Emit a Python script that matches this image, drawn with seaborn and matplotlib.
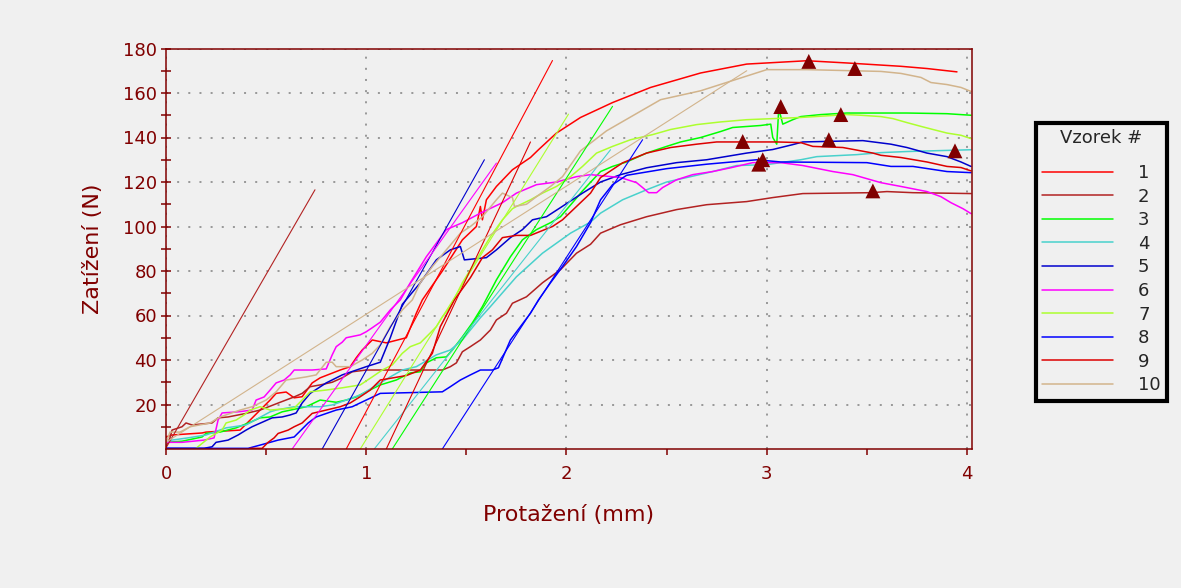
import matplotlib
matplotlib.use("Agg")
import matplotlib.pyplot as plt
from matplotlib.ticker import FixedLocator, NullFormatter
import pandas as pd
import seaborn as sns

# ---------------- data ----------------
SAMPLES = ["1", "2", "3", "4", "5", "6", "7", "8", "9", "10"]
COLORS = ["#ff0000", "#b22222", "#00ff00", "#48d1cc", "#0000cd",
          "#ff00ff", "#adff2f", "#0000ff", "#dd0000", "#d2b48c"]

X1 = [0, 0.03, 0.18, 0.2, 0.37, 0.42, 0.47, 0.52, 0.55, 0.60, 0.64, 0.68, 0.73, 0.77, 0.87,
      0.92, 0.95, 0.98, 1.03, 1.10, 1.20, 1.25, 1.28, 1.38, 1.48, 1.55, 1.57, 1.58, 1.60,
      1.65, 1.73, 1.82, 1.86, 1.95, 2.07, 2.23, 2.42, 2.67, 2.9, 3.2, 3.4, 3.67, 3.8, 3.95]
Y1 = [5.4, 6.3, 7.2, 7.6, 8.5, 13, 17.5, 22, 25, 25.6, 23, 23.5, 29.7, 32, 35.5,
      37, 41, 44.5, 49, 47.7, 50, 61, 67, 80, 94, 100, 109, 103, 112,
      118, 125.5, 131, 134.5, 142, 149, 155.7, 162.5, 169, 173, 174.5, 173.5, 172, 171, 169.5]

X2 = [0, 0.02, 0.03, 0.08, 0.10, 0.13, 0.23, 0.26, 0.31, 0.40, 0.47, 0.57, 0.64, 0.68, 0.72,
      0.77, 0.83, 0.88, 0.93, 1.0, 1.38, 1.42, 1.45, 1.48, 1.52, 1.57, 1.62, 1.65, 1.70,
      1.73, 1.80, 1.88, 1.97, 2.05, 2.12, 2.17, 2.27, 2.40, 2.55, 2.70, 2.90, 3.03, 3.18,
      3.52, 3.60, 3.73, 4.02]
Y2 = [1, 5, 8.5, 10, 11.7, 10.8, 11.7, 14, 14.4, 16, 17.5, 21, 23.4, 25, 28,
      28.8, 30, 32, 34.7, 35.5, 35.5, 37, 38.7, 43.7, 46, 49, 53.5, 58, 61,
      65.5, 68.4, 74.7, 80.6, 88, 92, 97, 100.8, 104.4, 107.6, 109.8, 111.2, 113, 114.8,
      115.2, 115.7, 115.2, 114.8]

X3 = [0, 0.08, 0.18, 0.2, 0.27, 0.35, 0.42, 0.47, 0.52, 0.58, 0.67, 0.70, 0.77, 0.85, 0.90,
      0.95, 1.0, 1.07, 1.15, 1.22, 1.27, 1.30, 1.35, 1.40, 1.43, 1.48, 1.53, 1.58, 1.65,
      1.72, 1.78, 1.85, 1.92, 1.97, 2.03, 2.08, 2.17, 2.23, 2.30, 2.40, 2.50, 2.57, 2.67,
      2.77, 2.83, 2.97, 3.02, 3.03, 3.05, 3.06, 3.08, 3.13, 3.17, 3.27, 3.40, 3.70, 3.90, 4.02]
Y3 = [3, 3.5, 5.4, 7, 7.6, 9.5, 12, 14, 14.4, 16.7, 18.4, 19, 22, 21, 22,
      23.4, 25.7, 28.8, 31, 34.2, 34.7, 38.7, 41, 41.4, 44.5, 50.4, 56.7, 64, 76,
      86.4, 94, 98.6, 101.7, 104.4, 110.7, 116, 124.7, 127, 129, 133, 136, 138, 140,
      142.7, 144.5, 145.4, 146, 140, 137, 153, 146, 148, 149.4, 150.3, 151, 151, 150.7, 150]

X4 = [0, 0.03, 0.11, 0.2, 0.30, 0.40, 0.52, 0.55, 0.64, 0.77, 0.83, 0.90, 0.97, 1.03, 1.12,
      1.18, 1.25, 1.35, 1.42, 1.48, 1.52, 1.57, 1.62, 1.75, 1.88, 2.02, 2.12, 2.17, 2.28,
      2.40, 2.50, 2.62, 2.73, 2.85, 3.0, 3.17, 3.25, 3.45, 3.57, 3.70, 4.02]
Y4 = [3, 4, 5, 6.3, 9.5, 10.8, 16.7, 17.5, 19, 19, 19.8, 22, 24.3, 27.5, 32.4,
      35.5, 37, 42.3, 44.5, 49, 53.5, 59, 64, 77.4, 88, 97, 102, 106, 112,
      116.5, 120, 122.4, 124.7, 127.4, 127.8, 130, 131.4, 132.3, 133.2, 133.7, 134.5]

X5 = [0, 0.19, 0.23, 0.25, 0.31, 0.36, 0.40, 0.43, 0.48, 0.53, 0.58, 0.62, 0.65, 0.68, 0.72,
      0.80, 0.88, 1.0, 1.07, 1.12, 1.18, 1.27, 1.35, 1.42, 1.47, 1.49, 1.60, 1.65, 1.72,
      1.78, 1.83, 1.90, 1.97, 2.08, 2.17, 2.27, 2.40, 2.55, 2.70, 2.90, 3.03, 3.13, 3.18,
      3.48, 3.62, 3.70, 3.80, 3.90, 3.97, 4.02]
Y5 = [0.3, 0.3, 1, 3, 4, 6.3, 8.5, 10, 12, 14, 14.4, 15.3, 16.2, 20.7, 25,
      29.7, 33.3, 37, 39, 50, 65, 74.7, 85, 89.5, 91, 85, 86, 89.5, 95,
      98.6, 103, 104.4, 108.5, 115, 120, 123.3, 126.4, 128.7, 130, 133, 134.6, 136.8, 138,
      138.6, 137, 135.5, 133, 131.4, 129, 127]

X6 = [0, 0.08, 0.19, 0.24, 0.26, 0.28, 0.36, 0.43, 0.45, 0.49, 0.52, 0.55, 0.59, 0.62, 0.64,
      0.73, 0.80, 0.83, 0.85, 0.88, 0.90, 0.97, 1.0, 1.03, 1.07, 1.12, 1.17, 1.22, 1.30,
      1.40, 1.48, 1.57, 1.68, 1.75, 1.85, 1.95, 2.05, 2.12, 2.27, 2.35, 2.38, 2.41, 2.45,
      2.48, 2.55, 2.63, 2.73, 2.82, 2.93, 3.07, 3.18, 3.33, 3.43, 3.50, 3.57, 3.67, 3.80,
      3.87, 3.92, 3.98, 4.02]
Y6 = [3, 3, 4, 5, 13, 16.2, 16.7, 17.5, 22, 23.4, 26.5, 29.7, 31, 33.3, 35.5,
      35.5, 36, 42.3, 46, 48, 50, 51.3, 52.7, 54.5, 57, 62.5, 67, 74.7, 86.4,
      98.6, 101.7, 106, 110.7, 115, 118.8, 120, 122.4, 123.3, 122, 119.7, 117.5, 115.2, 115.2,
      117.5, 121, 123.3, 124.7, 126.4, 128.7, 128.7, 127.4, 124.7, 123.3, 121.5, 119.7, 118, 115.7,
      113.4, 110.7, 108, 105.8]

X7 = [0.15, 0.22, 0.28, 0.30, 0.35, 0.39, 0.42, 0.47, 0.52, 0.64, 0.68, 0.72, 0.80, 0.88,
      0.97, 1.03, 1.08, 1.13, 1.18, 1.22, 1.27, 1.32, 1.35, 1.38, 1.42, 1.48, 1.55, 1.62,
      1.68, 1.73, 1.75, 1.82, 1.88, 1.95, 2.02, 2.08, 2.15, 2.23, 2.32, 2.43, 2.52, 2.65,
      2.77, 2.90, 3.17, 3.40, 3.47, 3.57, 3.63, 3.70, 3.77, 3.83, 3.90, 3.97, 4.02]
Y7 = [0.3, 5.4, 8.5, 11.7, 13, 15.3, 17.5, 19, 17.5, 18.4, 22, 25.7, 26.5, 27.5,
      28.8, 32.4, 35.5, 37.8, 43, 46, 47.7, 52.2, 55, 59.4, 64, 74.7, 85, 95.4,
      103, 108, 109, 112, 115, 118, 122.4, 127, 133, 136, 139, 141.3, 143.6, 145.8,
      147, 148, 149, 150.3, 150, 149.4, 148.5, 146.7, 145, 143.6, 142, 141, 139.5]

X8 = [0, 0.41, 0.48, 0.56, 0.64, 0.71, 0.75, 0.85, 0.93, 1.0, 1.07, 1.38, 1.42, 1.47, 1.52,
      1.57, 1.63, 1.66, 1.72, 1.77, 1.82, 1.86, 1.92, 1.98, 2.05, 2.12, 2.17, 2.23, 2.30,
      2.50, 2.70, 2.95, 3.07, 3.50, 3.62, 3.73, 3.90, 4.02]
Y8 = [0.3, 0.3, 2, 4, 5.4, 11.7, 14.4, 17.5, 19, 22, 25, 25.7, 28, 31, 33.3,
      35.5, 35.5, 36.5, 49, 55, 61, 67, 74.7, 82, 91, 101.7, 112, 118.8, 123,
      126, 128, 130, 129, 128.7, 127, 127, 124.7, 124.2]

X9 = [0.42, 0.48, 0.51, 0.54, 0.56, 0.61, 0.64, 0.68, 0.73, 0.87, 0.92, 0.97, 1.02, 1.07,
      1.20, 1.27, 1.33, 1.37, 1.44, 1.52, 1.58, 1.63, 1.68, 1.75, 1.82, 1.93, 1.98, 2.05,
      2.12, 2.17, 2.28, 2.40, 2.52, 2.65, 2.75, 3.05, 3.17, 3.23, 3.38, 3.53, 3.57, 3.67,
      3.80, 3.90, 3.97, 4.02]
Y9 = [0.3, 0.3, 3, 5, 7, 8.5, 10, 11.7, 16, 19, 20.7, 23.5, 26.5, 31,
      33, 35.5, 43, 55, 67, 77, 86, 89.5, 95, 96, 96, 100, 103, 109,
      115, 122, 128.6, 133, 135.5, 137, 138, 138, 137.7, 136, 135.5, 133, 132, 131,
      129, 127, 126.5, 125]

X10 = [0, 0.02, 0.07, 0.12, 0.22, 0.27, 0.37, 0.43, 0.50, 0.55, 0.60, 0.70, 0.75, 0.80,
       0.83, 0.85, 0.92, 0.98, 1.03, 1.07, 1.12, 1.18, 1.23, 1.27, 1.33, 1.40, 1.47, 1.52,
       1.58, 1.65, 1.68, 1.73, 1.74, 1.80, 1.85, 1.92, 1.98, 2.07, 2.20, 2.47, 2.67, 3.0,
       3.2, 3.57, 3.67, 3.77, 3.82, 3.90, 3.97, 4.02]
Y10 = [2.7, 7.6, 7.6, 10, 11.7, 14.4, 17.5, 19, 22, 25.7, 31, 32.4, 33.3, 39,
       39, 37, 37, 40, 43, 46.8, 55, 62.5, 67, 74.7, 82, 89.5, 97, 100,
       104.4, 112, 115, 113, 109, 110, 113.4, 118, 122.4, 134, 143, 157, 161, 170.5,
       170.5, 169.7, 168.8, 167, 164.7, 163.8, 162.5, 160.7]

# straight (tangent) lines of each sample: start and end point
TAN_X0 = [0.90, 0.0, 1.13, 1.04, 0.78, 0.63, 0.97, 1.38, 1.10, 0.0]
TAN_Y0 = [0.0, 0.5, 0.0, 0.0, 0.0, 0.0, 0.0, 0.0, 0.0, 3.0]
TAN_X1 = [1.93, 0.744, 2.23, 2.22, 1.59, 1.65, 2.01, 2.38, 1.82, 2.90]
TAN_Y1 = [174.6, 116.5, 154.0, 134.5, 130.0, 128.5, 150.5, 139.0, 138.0, 170.0]

# maximum-load markers
PEAK_X = [3.21, 3.53, 3.07, 3.94, 3.31, 2.96, 3.37, 2.98, 2.88, 3.44]
PEAK_Y = [174.2, 116.0, 153.9, 134.0, 139.0, 128.0, 150.3, 130.0, 138.2, 171.0]

X_TICKS = [0, 1, 2, 3, 4]
X_MINOR = [0.5, 1.5, 2.5, 3.5]
Y_TICKS = [20, 40, 60, 80, 100, 120, 140, 160, 180]
Y_MINOR = [10, 30, 50, 70, 90, 110, 130, 150, 170]

# ---------------- build tables ----------------
CURVE_X = [X1, X2, X3, X4, X5, X6, X7, X8, X9, X10]
CURVE_Y = [Y1, Y2, Y3, Y4, Y5, Y6, Y7, Y8, Y9, Y10]
rows = []
for s, xs, ys in zip(SAMPLES, CURVE_X, CURVE_Y):
    for i, (xv, yv) in enumerate(zip(xs, ys)):
        rows.append({"Vzorek": s, "i": i, "x": xv, "y": yv})
curves = pd.DataFrame(rows)

trows = []
for s, a, b, c, d in zip(SAMPLES, TAN_X0, TAN_Y0, TAN_X1, TAN_Y1):
    trows.append({"Vzorek": s, "i": 0, "x": a, "y": b})
    trows.append({"Vzorek": s, "i": 1, "x": c, "y": d})
tangents = pd.DataFrame(trows)

peaks = pd.DataFrame({"x": PEAK_X, "y": PEAK_Y, "Vzorek": SAMPLES})

# ---------------- style ----------------
BG = "#f0f0f0"
DR = "#800000"
sns.set_style("white", rc={"axes.facecolor": BG, "figure.facecolor": BG})
plt.rcParams["font.family"] = ["DejaVu Sans"]

fig = plt.figure(figsize=(11.81, 5.88), dpi=100, facecolor=BG)
W, H = 1181.0, 588.0
L, R, T, B = 166.0, 972.0, 48.5, 449.0
ax = fig.add_axes([L / W, (H - B) / H, (R - L) / W, (B - T) / H])
ax.set_facecolor(BG)

sns.lineplot(data=curves, x="x", y="y", hue="Vzorek", hue_order=SAMPLES,
             palette=COLORS, estimator=None, sort=False, linewidth=1.1, ax=ax)
sns.lineplot(data=tangents, x="x", y="y", hue="Vzorek", hue_order=SAMPLES,
             palette=COLORS, estimator=None, sort=False, linewidth=0.8,
             legend=False, ax=ax)
sns.scatterplot(data=peaks, x="x", y="y", marker="^", color=DR, s=115,
                edgecolor="none", linewidth=0, legend=False, zorder=5, ax=ax)

ax.set_xlim(0, 4.025)
ax.set_ylim(0, 180)

ax.xaxis.set_major_locator(FixedLocator(X_TICKS))
ax.xaxis.set_minor_locator(FixedLocator(X_MINOR))
ax.yaxis.set_major_locator(FixedLocator(Y_TICKS))
ax.yaxis.set_minor_locator(FixedLocator(Y_MINOR))
ax.set_xticklabels([str(v) for v in X_TICKS])
ax.set_yticklabels([str(v) for v in Y_TICKS])
ax.xaxis.set_minor_formatter(NullFormatter())
ax.yaxis.set_minor_formatter(NullFormatter())

ax.tick_params(axis="x", which="both", direction="out", length=4.5, width=1.1,
               color=DR, labelcolor=DR, labelsize=13, pad=7, bottom=True)
ax.tick_params(axis="y", which="both", direction="inout", length=7, width=1.1,
               color=DR, labelcolor=DR, labelsize=13, pad=3, left=True)

for sp in ax.spines.values():
    sp.set_color(DR)
    sp.set_linewidth(1.1)
    sp.set_visible(True)

ax.set_axisbelow(True)
ax.grid(True, which="major", color="#808080", linestyle=(0, (1.3, 6)), linewidth=1.1)

ax.set_xlabel("Protažení (mm)", fontsize=16, color=DR)
ax.xaxis.set_label_coords(0.5, (B - 505) / (B - T))
ax.set_ylabel("Zatížení (N)", fontsize=16, color=DR)
ax.yaxis.set_label_coords((103 - L) / (R - L), 0.5)

handles, labels = ax.get_legend_handles_labels()
for h in handles:
    h.set_linewidth(1.1)
leg = ax.legend(handles, labels, title="Vzorek #", loc="upper left",
                bbox_to_anchor=(1036 / W, 1 - 123 / H), bbox_transform=fig.transFigure,
                borderaxespad=0, frameon=True, fancybox=False, edgecolor="black",
                facecolor=BG, framealpha=1, fontsize=13, title_fontsize=13,
                handlelength=3.9, handletextpad=1.4, labelspacing=0.31, borderpad=0.35)
leg.get_frame().set_linewidth(3)
leg._legend_box.sep = 12

fig.savefig("out.png", dpi=100, facecolor=BG)
